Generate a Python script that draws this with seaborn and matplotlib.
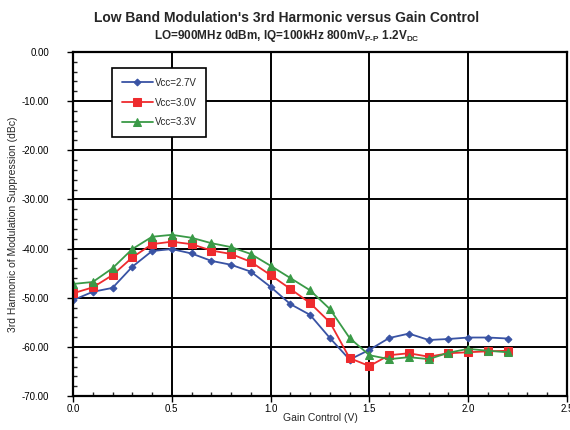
import numpy as np
import pandas as pd
import seaborn as sns
import matplotlib
matplotlib.use("Agg")
import matplotlib.pyplot as plt
from matplotlib.ticker import MultipleLocator, FormatStrFormatter

gain_v = [0.0, 0.1, 0.2, 0.3, 0.4, 0.5, 0.6, 0.7, 0.8, 0.9, 1.0, 1.1,
          1.2, 1.3, 1.4, 1.5, 1.6, 1.7, 1.8, 1.9, 2.0, 2.1, 2.2]
vcc_27 = [-50.5, -48.8, -48.0, -43.7, -40.5, -40.1, -41.0, -42.5, -43.3, -44.7,
          -47.8, -51.3, -53.5, -58.2, -62.6, -60.6, -58.2, -57.3, -58.6, -58.4,
          -58.1, -58.1, -58.3]
vcc_30 = [-49.1, -47.9, -45.4, -41.8, -39.1, -38.6, -39.1, -40.4, -41.1, -42.7,
          -45.4, -48.2, -51.1, -55.0, -62.3, -63.9, -61.7, -61.3, -62.0, -61.3,
          -61.1, -60.9, -60.8]
vcc_33 = [-47.2, -46.8, -44.0, -40.1, -37.6, -37.2, -37.8, -38.9, -39.7, -41.1,
          -43.5, -46.0, -48.5, -52.3, -58.2, -61.7, -62.5, -62.1, -62.5, -61.2,
          -60.4, -60.8, -61.1]
series_names = ["Vcc=2.7V", "Vcc=3.0V", "Vcc=3.3V"]

df = pd.DataFrame({
    "gain": gain_v * 3,
    "value": vcc_27 + vcc_30 + vcc_33,
    "series": np.repeat(series_names, len(gain_v)),
})

sns.set_style("white")
plt.rcParams["font.family"] = ["Liberation Sans", "DejaVu Sans"]
plt.rcParams["mathtext.fontset"] = "custom"
plt.rcParams["mathtext.rm"] = "Liberation Sans:bold"
plt.rcParams["mathtext.bf"] = "Liberation Sans:bold"

colors = ["#3953a4", "#ee2b2e", "#3a9a47"]
markers = ["D", "s", "^"]
sizes = [3.5, 5.2, 5.8]

fig = plt.figure(figsize=(5.7, 4.3), dpi=100)
ax = fig.add_axes([73 / 570, 1 - 396 / 430, 494 / 570, 344 / 430])

for name, c, m, s in zip(series_names, colors, markers, sizes):
    sns.lineplot(data=df[df["series"] == name], x="gain", y="value", ax=ax,
                 color=c, marker=m, markersize=s, markeredgecolor=c,
                 linewidth=1.3, label=name)

ax.set_xlim(0, 2.5)
ax.set_ylim(-70, 0)
ax.xaxis.set_major_locator(MultipleLocator(0.5))
ax.xaxis.set_minor_locator(MultipleLocator(0.1))
ax.yaxis.set_major_locator(MultipleLocator(10))
ax.yaxis.set_minor_locator(MultipleLocator(2))
ax.xaxis.set_major_formatter(FormatStrFormatter("%.1f"))
ax.yaxis.set_major_formatter(FormatStrFormatter("%.2f"))
ax.tick_params(axis="both", which="major", direction="out", length=4,
               width=1, labelsize=7, colors="black")
ax.tick_params(axis="both", which="minor", direction="in", length=3, width=1)
ax.tick_params(axis="x", which="major", pad=2)
ax.tick_params(axis="y", which="major", pad=13)
ax.tick_params(bottom=True, left=True, which="both")
ax.grid(True, which="major", color="black", linewidth=1.4)
for sp in ax.spines.values():
    sp.set_color("black")
    sp.set_linewidth(1.6)

ax.set_xlabel("Gain Control (V)", fontsize=7.5, labelpad=-1)
ax.set_ylabel("3rd Harmonic of Modulation Suppression (dBc)", fontsize=7.5,
              labelpad=3)

leg = ax.legend(loc="upper left", bbox_to_anchor=(0.079, 0.953), fontsize=7,
                frameon=True, fancybox=False, edgecolor="black",
                borderpad=1.0, labelspacing=1.0, handlelength=3.2,
                handletextpad=0.2, borderaxespad=0)
leg.get_frame().set_linewidth(1.2)
leg.get_frame().set_facecolor("white")
leg.get_frame().set_alpha(1)

fig.text(0.503, 0.957, "Low Band Modulation's 3rd Harmonic versus Gain Control",
         ha="center", va="center", fontsize=10, fontweight="bold")
fig.text(0.503, 0.916,
         r"LO=900MHz 0dBm, IQ=100kHz 800mV$_{\mathrm{P\text{-}P}}$ 1.2V$_{\mathrm{DC}}$",
         ha="center", va="center", fontsize=8.5, fontweight="bold")

fig.savefig("out.png", dpi=100)
